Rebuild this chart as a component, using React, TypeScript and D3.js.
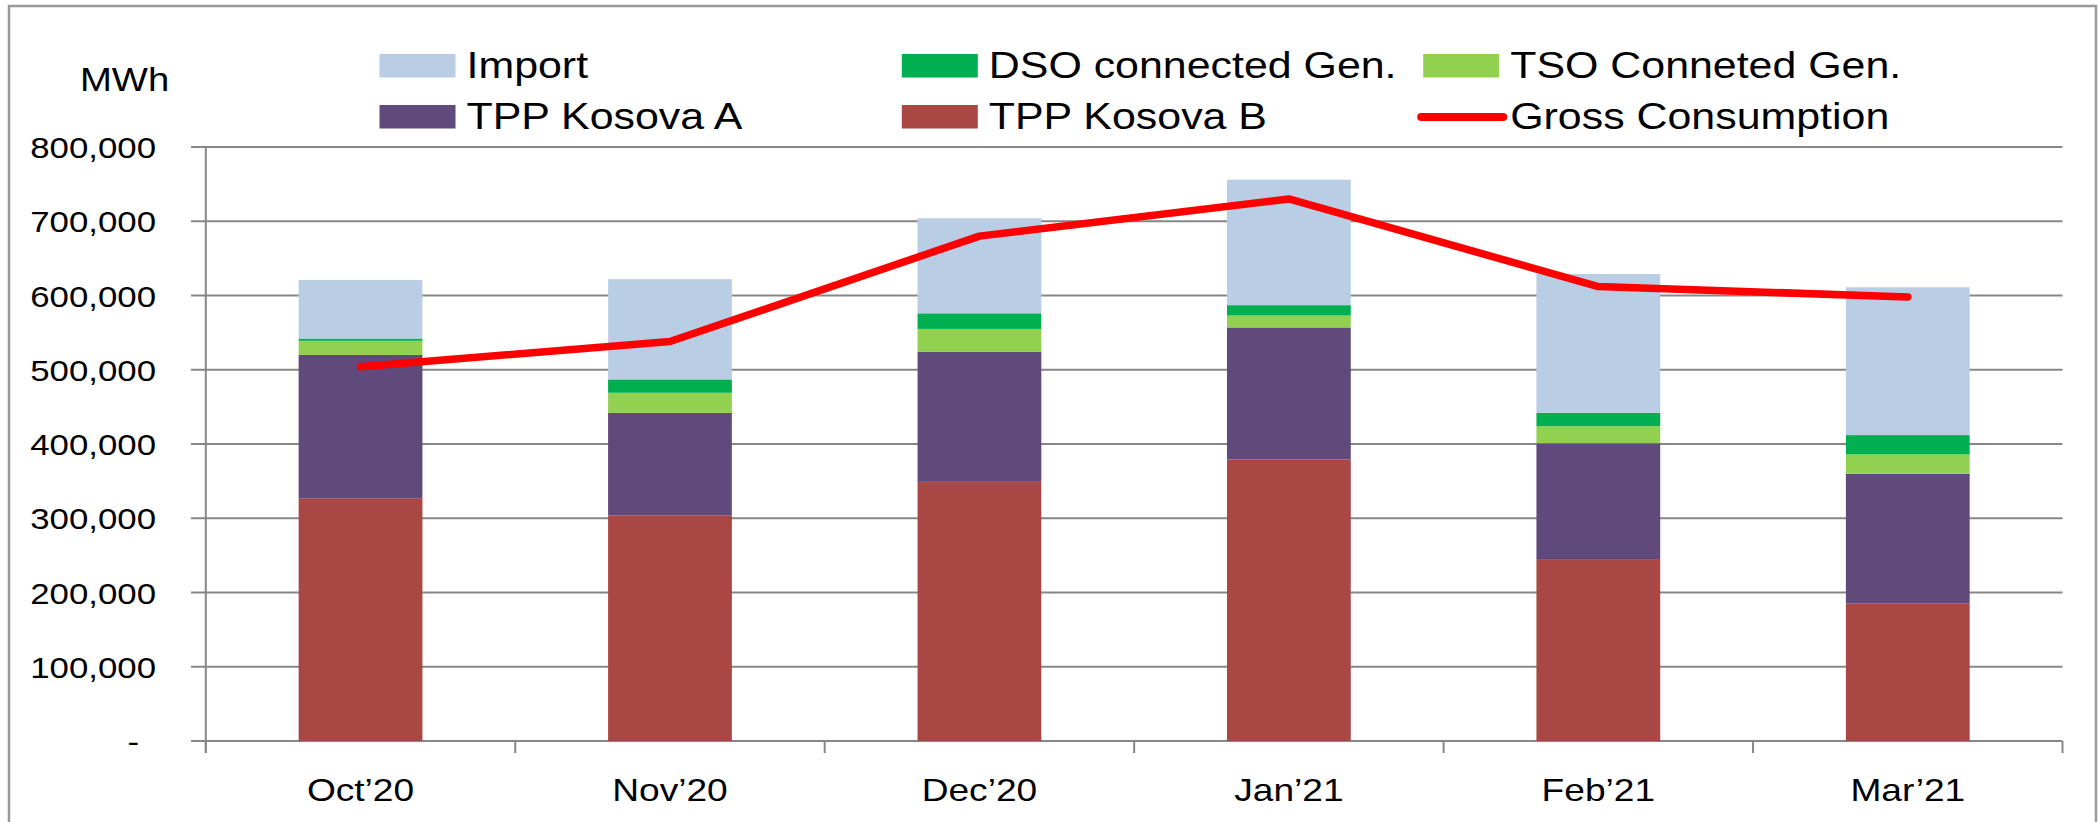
import * as d3 from "d3";

const months = ["Oct’20", "Nov’20", "Dec’20", "Jan’21", "Feb’21", "Mar’21"];
const tppB = [327000, 304000, 349000, 379000, 245000, 185000];
const tppA = [193000, 138000, 175000, 178000, 156000, 175000];
const tsoGen = [19000, 27000, 31000, 16000, 23000, 26000];
const dsoGen = [3000, 18000, 21000, 14000, 18000, 26000];
const imports = [79000, 135000, 128000, 169000, 187000, 199000];
const gross = [504000, 538000, 680000, 730000, 612000, 598000];
const yTicks = [0, 100000, 200000, 300000, 400000, 500000, 600000, 700000, 800000];

const keys = ["tppB", "tppA", "tso", "dso", "imp"];
const colors = {
  tppB: "#A94745",
  tppA: "#604A7B",
  tso: "#92D050",
  dso: "#00B050",
  imp: "#B9CDE5",
};

const FONT = "'Liberation Sans', Arial, sans-serif";
const SX = 1.16;

function SText({ x, y, size, anchor = "start", children }) {
  return (
    <text
      transform={`translate(${x},${y}) scale(${SX},1)`}
      textAnchor={anchor}
      fontSize={size}
      fontFamily={FONT}
      fill="#000"
    >
      {children}
    </text>
  );
}

export default function App() {
  const width = 2099;
  const height = 822;
  const left = 205.8;
  const right = 2062.5;
  const top = 147;
  const bottom = 741;

  const rows = months.map((m, i) => ({
    month: m,
    tppB: tppB[i],
    tppA: tppA[i],
    tso: tsoGen[i],
    dso: dsoGen[i],
    imp: imports[i],
  }));

  const x = d3.scaleBand(months, [left, right]).paddingInner(0.6).paddingOuter(0.3);
  const y = d3.scaleLinear([0, 800000], [bottom, top]);
  const step = x.step();
  const series = d3.stack().keys(keys)(rows);
  const fmt = d3.format(",");

  const line = d3
    .line<number>()
    .x((_, i) => x(months[i])! + x.bandwidth() / 2)
    .y((d) => y(d));

  const legend = [
    { label: "Import", key: "imp", col: 0, row: 0 },
    { label: "DSO connected Gen.", key: "dso", col: 1, row: 0 },
    { label: "TSO Conneted Gen.", key: "tso", col: 2, row: 0 },
    { label: "TPP Kosova A", key: "tppA", col: 0, row: 1 },
    { label: "TPP Kosova B", key: "tppB", col: 1, row: 1 },
    { label: "Gross Consumption", key: "line", col: 2, row: 1 },
  ];
  const legendX = [379.5, 901.8, 1423.2];
  const legendY = [54, 105];

  // category boundaries for the x-axis tick marks
  const boundaries = d3.range(months.length + 1).map((i) => left + i * step);

  return (
    <>
      <style>{`body{margin:0;overflow:hidden}`}</style>
      <svg width={width} height={height} style={{ display: "block" }}>
        <rect x={0} y={0} width={width} height={height} fill="#fff" />
        <rect x={9} y={6} width={2087} height={840} fill="none" stroke="#9a9a9a" strokeWidth={2.5} />

        {/* gridlines */}
        <g stroke="#878787" strokeWidth={2}>
          {yTicks.map((t) => (
            <line key={t} x1={191} x2={right} y1={y(t)} y2={y(t)} />
          ))}
          <line x1={left} x2={left} y1={top} y2={bottom + 12} />
          {boundaries.map((b, i) => (
            <line key={i} x1={b} x2={b} y1={bottom} y2={bottom + 12} />
          ))}
        </g>

        {/* y tick labels */}
        {yTicks.map((t) => (
          <SText key={t} x={t === 0 ? 139 : 156} y={y(t) + 11} size={30} anchor="end">
            {t === 0 ? "-" : fmt(t)}
          </SText>
        ))}
        <SText x={80} y={91} size={33}>
          MWh
        </SText>

        {/* stacked bars */}
        {series.map((s) => (
          <g key={s.key} fill={colors[s.key]}>
            {s.map((d, i) => (
              <rect
                key={i}
                x={x(months[i])}
                y={y(d[1])}
                width={x.bandwidth()}
                height={y(d[0]) - y(d[1])}
              />
            ))}
          </g>
        ))}

        {/* gross consumption line */}
        <path
          d={line(gross)!}
          fill="none"
          stroke="#FF0000"
          strokeWidth={7.5}
          strokeLinecap="round"
          strokeLinejoin="round"
        />

        {/* category labels */}
        {months.map((m) => (
          <SText key={m} x={x(m)! + x.bandwidth() / 2} y={801} size={32} anchor="middle">
            {m}
          </SText>
        ))}

        {/* legend */}
        {legend.map((l) => {
          const lx = legendX[l.col];
          const ly = legendY[l.row];
          return (
            <g key={l.label}>
              {l.key === "line" ? (
                <line
                  x1={lx - 2}
                  x2={lx + 80}
                  y1={ly + 12}
                  y2={ly + 12}
                  stroke="#FF0000"
                  strokeWidth={8}
                  strokeLinecap="round"
                />
              ) : (
                <rect x={lx} y={ly} width={76} height={23.5} fill={colors[l.key]} />
              )}
              <SText x={lx + 87} y={ly + 24} size={37}>
                {l.label}
              </SText>
            </g>
          );
        })}
      </svg>
    </>
  );
}
